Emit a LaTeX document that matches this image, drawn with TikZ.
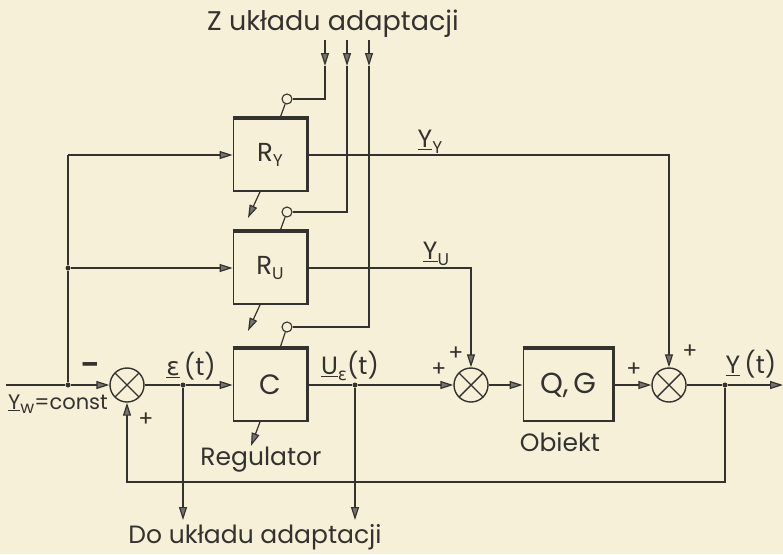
\documentclass[tikz,border=0pt]{standalone}
\usepackage{fontspec}
\setmainfont{Poppins}
\newfontfamily\grkfont{DejaVu Sans}
\usetikzlibrary{arrows.meta,positioning,calc}
\definecolor{Paper}{RGB}{247,240,216}
\definecolor{Ink}{RGB}{52,50,46}
\definecolor{TipGray}{RGB}{118,116,110}
\newcommand{\lowsub}[1]{\raisebox{-0.4ex}{\fontsize{17}{17}\selectfont #1}}
\newcommand{\epsl}{{\grkfont ε}}

\begin{document}
\begin{tikzpicture}[
      x=1pt,y=-1pt,
      blockBox/.style={draw=Ink,line width=1.8pt,minimum width=73pt,minimum height=72pt,
                       inner sep=0pt,text=Ink,font=\fontsize{26}{28}\selectfont},
      sumNode/.style={circle,draw=Ink,line width=1.4pt,minimum size=34pt,inner sep=0pt,
                      path picture={\draw[Ink,line width=1.4pt]
                        ($(path picture bounding box.center)+(-12pt,-12pt)$) -- ($(path picture bounding box.center)+(12pt,12pt)$)
                        ($(path picture bounding box.center)+(-12pt,12pt)$) -- ($(path picture bounding box.center)+(12pt,-12pt)$);}},
      sigLine/.style={Ink,line width=1.2pt},
      arSig/.style={sigLine,-{Triangle[length=13pt,width=8pt,fill=TipGray]}},
      tapDot/.style={circle,fill=Ink,inner sep=0pt,minimum size=5pt},
      ringNode/.style={circle,draw=Ink,line width=1.1pt,fill=Paper,inner sep=0pt,minimum size=10pt},
      shadowEdge/.style={Ink,line width=3.6pt},
      lbl/.style={text=Ink,inner sep=1pt,font=\fontsize{25}{27}\selectfont},
      signLbl/.style={text=Ink,inner sep=0pt,font=\fontsize{22}{22}\selectfont}
    ]

    % Paper and frame
    \fill[Paper] (0,0) rectangle (783,554);
    \useasboundingbox (0,0) rectangle (783,554);

    % Blocks
    \node(ry)[blockBox] at (270,155) {R\lowsub{Y}};
    \node(ru)[blockBox] at (270,268) {R\lowsub{U}};
    \node(cc)[blockBox] at (270,385) {\fontsize{28}{30}\selectfont C};
    \node(qg)[blockBox,minimum width=89pt] at (568,385) {\fontsize{29}{31}\selectfont Q,\,G};

    % Thick upper-right edges
    \draw[shadowEdge] (ry.north west) -- (ry.north east) -- (ry.south east);
    \draw[shadowEdge] (ru.north west) -- (ru.north east) -- (ru.south east);
    \draw[shadowEdge] (cc.north west) -- (cc.north east) -- (cc.south east);
    \draw[shadowEdge] (qg.north west) -- (qg.north east) -- (qg.south east);

    % Summing points
    \node(s1)[sumNode] at (127,385) {};
    \node(s2)[sumNode] at (471,385) {};
    \node(s3)[sumNode] at (669,385) {};

    % Branch points and free ends
    \coordinate(yin) at (6,385);
    \node(jw)[tapDot] at (68,385) {};
    \node(ju)[tapDot] at (68,268) {};
    \coordinate(ky) at (68,155);
    \node(je)[tapDot] at (183,385) {};
    \node(jue)[tapDot] at (355,385) {};
    \node(jy)[tapDot] at (725,385) {};
    \coordinate(yout) at (783,385);
    \coordinate(fbl) at (127,482);
    \coordinate(dl) at (183,520);
    \coordinate(dr) at (355,520);

    % Main path
    \draw[sigLine] (yin) -- (jw);
    \draw[arSig] (jw) -- (s1);
    \draw[sigLine] (s1) -- (je);
    \draw[arSig] (je) -- (cc);
    \draw[sigLine] (cc) -- (jue);
    \draw[arSig] (jue) -- (s2);
    \draw[arSig] (s2) -- (qg);
    \draw[arSig] (qg) -- (s3);
    \draw[sigLine] (s3) -- (jy);
    \draw[arSig] (jy) -- (yout);

    % Set-point trunk to the correctors
    \draw[sigLine] (jw) -- (ju) -- (ky);
    \draw[arSig] (ky) -- (ry);
    \draw[arSig] (ju) -- (ru);

    % Corrector outputs
    \draw[arSig] (ry) -| (s3);
    \draw[arSig] (ru) -| (s2);

    % Feedback
    \draw[arSig] (jy) |- (fbl) -- (s1);

    % Taps to adaptation
    \draw[arSig] (je) -- (dl);
    \draw[arSig] (jue) -- (dr);

    % Inputs from adaptation
    \coordinate(a1) at (325,40);  \coordinate(a1m) at (325,66);
    \coordinate(a2) at (347,40);  \coordinate(a2m) at (347,66);
    \coordinate(a3) at (369,40);  \coordinate(a3m) at (369,66);
    \node(rg1)[ringNode] at (287,99) {};
    \node(rg2)[ringNode] at (287,212) {};
    \node(rg3)[ringNode] at (287,327) {};
    \draw[arSig] (a1) -- (a1m);
    \draw[arSig] (a2) -- (a2m);
    \draw[arSig] (a3) -- (a3m);
    \draw[sigLine] (a1m) |- (rg1);
    \draw[sigLine] (a2m) |- (rg2);
    \draw[sigLine] (a3m) |- (rg3);
    \draw[sigLine] (rg1) -- ($(ry.north)+(10,0)$);
    \draw[sigLine] (rg2) -- ($(ru.north)+(10,0)$);
    \draw[sigLine] (rg3) -- ($(cc.north)+(10,0)$);

    % Adaptive outputs of the blocks
    \draw[arSig] ($(ry.south)+(-10,0)$) -- ++(-12,26);
    \draw[arSig] ($(ru.south)+(-10,0)$) -- ++(-12,26);
    \draw[arSig] ($(cc.south)+(-10,0)$) -- ++(-9,24);

    % Labels
    \node(ttl)[lbl,font=\fontsize{27}{29}\selectfont] at (333,24) {Z układu adaptacji};
    \node(lyy)[lbl] at (430,142) {\underline{Y}\lowsub{Y}};
    \node(lyu)[lbl] at (436,254) {\underline{Y}\lowsub{U}};
    \node(leps)[lbl] at (191,366) {\underline{\epsl}\,(t)};
    \node(lue)[lbl] at (350,366) {\underline{U}\lowsub{\epsl}(t)};
    \node(lyt)[lbl] at (751,364) {\underline{Y}\,(t)};
    \node(lyw)[lbl,font=\fontsize{21}{23}\selectfont] at (58,404) {\underline{Y}\lowsub{w}=const};
    \node(lreg)[lbl] at (261,460) {Regulator};
    \node(lobj)[lbl] at (560,442) {Obiekt};
    \node(ldo)[lbl] at (255,537) {Do układu adaptacji};

    % Signs
    \node(m1)[signLbl,font=\fontsize{26}{26}\selectfont\bfseries] at (90,368) {–};
    \node(p1)[signLbl] at (146,420) {+};
    \node(p2a)[signLbl] at (439,370) {+};
    \node(p2b)[signLbl] at (456,354) {+};
    \node(p3a)[signLbl] at (634,370) {+};
    \node(p3b)[signLbl] at (690,352) {+};
  \end{tikzpicture}
\end{document}
